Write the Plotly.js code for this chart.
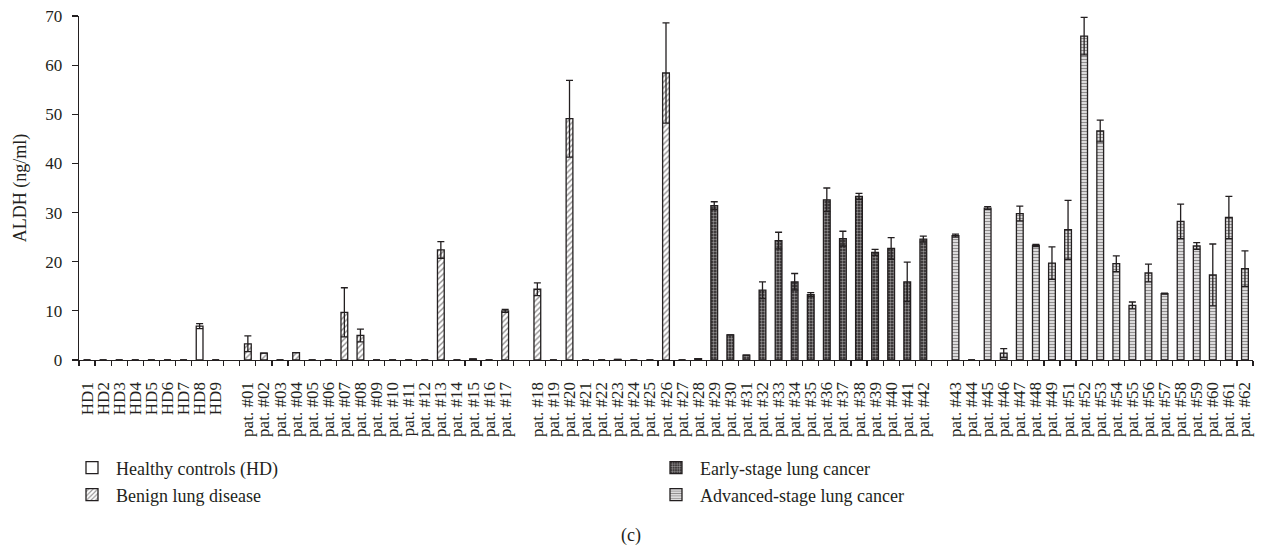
<!DOCTYPE html>
<html>
<head>
<meta charset="utf-8">
<script src="https://cdn.plot.ly/plotly-3.0.1.min.js"></script>
<style>html,body{margin:0;padding:0;background:#fff;}#chart{width:1263px;height:550px;}</style>
</head>
<body>
<div id="chart"></div>
<script>
// ---- Data ----
const hdLabels = ["HD1","HD2","HD3","HD4","HD5","HD6","HD7","HD8","HD9"];
const hdValues = [0,0,0,0,0,0,0,6.9,0];
const hdErrors = [0,0,0,0,0,0,0,0.5,0];

const benignLabels = ["pat. #01","pat. #02","pat. #03","pat. #04","pat. #05","pat. #06","pat. #07","pat. #08","pat. #09","pat. #10","pat. #11","pat. #12","pat. #13","pat. #14","pat. #15","pat. #16","pat. #17","pat. #18","pat. #19","pat. #20","pat. #21","pat. #22","pat. #23","pat. #24","pat. #25","pat. #26","pat. #27","pat. #28"];
const benignValues = [3.3,1.4,0,1.5,0,0,9.7,5.0,0,0,0,0,22.4,0,0.2,0,10.0,14.4,0,49.1,0,0,0.1,0,0,58.4,0,0.3];
const benignErrors = [1.6,0,0,0,0,0,5.0,1.3,0,0,0,0,1.7,0,0,0,0.3,1.3,0,7.8,0,0,0,0,0,10.2,0,0];

const earlyLabels = ["pat. #29","pat. #30","pat. #31","pat. #32","pat. #33","pat. #34","pat. #35","pat. #36","pat. #37","pat. #38","pat. #39","pat. #40","pat. #41","pat. #42"];
const earlyValues = [31.4,5.1,1.0,14.2,24.3,15.9,13.3,32.6,24.7,33.3,21.9,22.7,15.9,24.6];
const earlyErrors = [0.8,0,0,1.7,1.7,1.7,0.4,2.4,1.5,0.6,0.6,2.2,4.0,0.6];

const advancedLabels = ["pat. #43","pat. #44","pat. #45","pat. #46","pat. #47","pat. #48","pat. #49","pat. #51","pat. #52","pat. #53","pat. #54","pat. #55","pat. #56","pat. #57","pat. #58","pat. #59","pat. #60","pat. #61","pat. #62"];
const advancedValues = [25.3,0,30.9,1.4,29.8,23.3,19.7,26.5,65.9,46.6,19.6,11.1,17.7,13.5,28.2,23.2,17.3,29.0,18.6];
const advancedErrors = [0.3,0,0.3,0.9,1.5,0.2,3.3,6.0,3.8,2.2,1.6,0.7,1.8,0.1,3.5,0.7,6.3,4.3,3.6];

// empty spacer categories between groups
const gap1 = [" "], gap2 = ["  "], gap3 = ["   "];
const benignA = benignLabels.slice(0,17), benignB = benignLabels.slice(17);
const categoryOrder = [].concat(hdLabels, gap1, benignA, gap2, benignB, earlyLabels, gap3, advancedLabels);

const seriesNames = ["Healthy controls (HD)","Benign lung disease","Early-stage lung cancer","Advanced-stage lung cancer"];

// ---- Styles ----
const FONT = "Liberation Serif, Times New Roman, serif";
const INK = "#231f20";
const barW = 0.42;
const errStyle = (arr) => ({type:"data", array:arr, visible:true, symmetric:true, color:INK, thickness:1.3, width:3.5});
const lineStyle = {color:INK, width:1.3};

const traces = [
  {type:"bar", name:seriesNames[0], x:hdLabels, y:hdValues, width:barW, legend:"legend", showlegend:true,
   marker:{color:"white", line:lineStyle}, error_y:errStyle(hdErrors)},
  {type:"bar", name:seriesNames[1], x:benignLabels, y:benignValues, width:barW, legend:"legend2", showlegend:true,
   marker:{color:"white", line:lineStyle, pattern:{shape:"/", fgcolor:INK, bgcolor:"white", size:4, solidity:0.35, fillmode:"overlay"}},
   error_y:errStyle(benignErrors)},
  {type:"bar", name:seriesNames[2], x:earlyLabels, y:earlyValues, width:barW, legend:"legend3", showlegend:true,
   marker:{color:INK, line:lineStyle, pattern:{shape:".", fgcolor:"white", bgcolor:INK, size:3, solidity:0.5, fillmode:"overlay"}},
   error_y:errStyle(earlyErrors)},
  {type:"bar", name:seriesNames[3], x:advancedLabels, y:advancedValues, width:barW, legend:"legend4", showlegend:true,
   marker:{color:"white", line:lineStyle, pattern:{shape:"-", fgcolor:INK, bgcolor:"white", size:3, solidity:0.55, fillmode:"overlay"}},
   error_y:errStyle(advancedErrors)}
];

const L = 79, R = 10, T = 16, B = 190, PW = 1263 - L - R, PH = 550 - T - B;
const px2x = (p) => (p - L) / PW;
const py2y = (p) => (T + PH - p) / PH;
const legendBase = {xanchor:"left", yanchor:"middle", bgcolor:"rgba(0,0,0,0)", font:{family:FONT, size:18, color:INK}, itemwidth:38};

const layout = {
  width:1263, height:550,
  margin:{l:L, r:R, t:T, b:B, pad:0},
  paper_bgcolor:"white", plot_bgcolor:"white",
  barmode:"overlay",
  showlegend:true,
  font:{family:FONT, color:INK, size:17},
  xaxis:{
    type:"category", categoryorder:"array", categoryarray:categoryOrder,
    range:[-0.5, categoryOrder.length - 0.5],
    tickmode:"linear", tick0:0, dtick:1,
    tickson:"boundaries", ticks:"outside", ticklen:5, tickwidth:1.2, tickcolor:INK,
    showline:true, linecolor:INK, linewidth:1.3, showgrid:false, zeroline:false,
    tickangle:-90, tickfont:{family:FONT, size:17, color:INK}, ticklabelstandoff:14,
    fixedrange:true
  },
  yaxis:{
    range:[0,70], tickvals:[0,10,20,30,40,50,60,70],
    ticks:"outside", ticklen:6, tickwidth:1.2, tickcolor:INK,
    showline:true, linecolor:INK, linewidth:1.3, showgrid:false, zeroline:false,
    tickfont:{family:FONT, size:17, color:INK}, ticklabelstandoff:6,
    title:{text:"ALDH (ng/ml)", font:{family:FONT, size:18, color:INK}, standoff:14},
    fixedrange:true
  },
  legend:Object.assign({}, legendBase, {x:px2x(68), y:py2y(468)}),
  legend2:Object.assign({}, legendBase, {x:px2x(68), y:py2y(495)}),
  legend3:Object.assign({}, legendBase, {x:px2x(652), y:py2y(468)}),
  legend4:Object.assign({}, legendBase, {x:px2x(652), y:py2y(495)}),
  annotations:[{text:"(c)", xref:"paper", yref:"paper", x:px2x(631), y:py2y(535), showarrow:false,
    xanchor:"center", yanchor:"middle", font:{family:FONT, size:18, color:INK}}]
};

Plotly.newPlot("chart", traces, layout, {displayModeBar:false, staticPlot:true});
</script>
</body>
</html>
